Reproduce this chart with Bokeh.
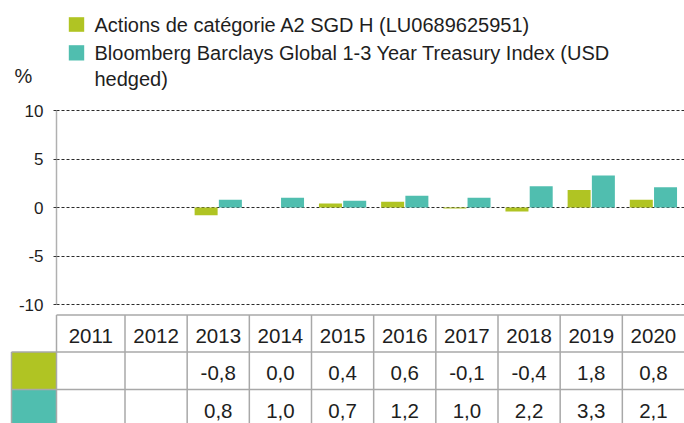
from bokeh.plotting import figure
from bokeh.models import Range1d, FixedTicker
from bokeh.core.properties import value
from bokeh.embed import file_html
from bokeh.resources import INLINE

# ---------------- data ----------------
YEARS = ["2011", "2012", "2013", "2014", "2015", "2016", "2017", "2018", "2019", "2020"]
FUND = [None, None, -0.8, 0.0, 0.4, 0.6, -0.1, -0.4, 1.8, 0.8]
INDEX = [None, None, 0.8, 1.0, 0.7, 1.2, 1.0, 2.2, 3.3, 2.1]
SERIES = [
    "Actions de catégorie A2 SGD H (LU0689625951)",
    "Bloomberg Barclays Global 1-3 Year Treasury Index (USD hedged)",
]
Y_TICKS = [-10, -5, 0, 5, 10]
Y_UNIT = "%"

# ---------------- style / layout ----------------
COLORS = ["#b0c423", "#50beaf"]
FONT = "Liberation Sans"
TXT = "#1e1e1e"
LINE_GREY = "#a8a8a8"

W, H = 684, 423
F_L, F_R, F_T, F_B = 56, 684, 109, 305        # plotting frame in px
YPAD = 1 / 9.7                                # 1px of padding in data units
N = len(YEARS)
COL = (F_R - 124.5) / (N - 1)                # px per category column
X0 = 1 - (124.5 - F_L) / COL                 # left edge of first (wider) column
X_SW = X0 - (F_L - 11) / COL                 # left edge of swatch column
edges = [X0] + list(range(1, N + 1))
centers = [(edges[i] + edges[i + 1]) / 2 for i in range(N)]
BAR_W = 0.37
OFFS = [-0.195, 0.195]

p = figure(width=W, height=H, x_range=Range1d(X0, N),
           y_range=Range1d(Y_TICKS[0] - YPAD, Y_TICKS[-1] + YPAD),
           output_backend="svg", toolbar_location=None, x_axis_type=None,
           outline_line_color=None, min_border_left=F_L, min_border_right=W - F_R,
           min_border_top=F_T, min_border_bottom=H - F_B)
# pixel helper ranges (value == page pixel) for legend / table layout
p.extra_x_ranges = {"px": Range1d(F_L, F_R)}
p.extra_y_ranges = {"px": Range1d(F_B, F_T)}

p.yaxis.ticker = FixedTicker(ticks=Y_TICKS)
p.yaxis.bounds = (Y_TICKS[0], Y_TICKS[-1])
p.yaxis.major_label_overrides = {t: str(t) for t in Y_TICKS}
p.ygrid.ticker = FixedTicker(ticks=Y_TICKS)
p.ygrid.grid_line_color = "#2a2a2a"
p.ygrid.grid_line_dash = "3 2"
p.ygrid.grid_line_width = 1
p.yaxis.axis_line_color = "#b0b0b0"
p.yaxis.axis_line_width = 1.5
p.yaxis.major_tick_in = 0
p.yaxis.major_tick_out = 3
p.yaxis.major_tick_line_color = "#333333"
p.yaxis.minor_tick_line_color = None
p.yaxis.major_label_standoff = 10
p.yaxis.major_label_text_font = FONT
p.yaxis.major_label_text_font_size = "17px"
p.yaxis.major_label_text_color = TXT

# ---------------- bars ----------------
for vals, off, col in zip([FUND, INDEX], OFFS, COLORS):
    xs = [centers[i] + off for i, v in enumerate(vals) if v is not None]
    tops = [v for v in vals if v is not None]
    p.vbar(x=xs, top=tops, bottom=0, width=BAR_W, fill_color=col, line_color=None)

# ---------------- legend ----------------
TXT_KW = dict(text_font=value(FONT), text_color=TXT, level="overlay",
              text_baseline="middle", text_align="left",
              x_range_name="px", y_range_name="px")
p.quad(left=[68.3, 68.3], right=[83.7, 83.7], top=[16.7, 44.7], bottom=[31.3, 60.0],
       fill_color=COLORS, line_color=None, level="overlay",
       x_range_name="px", y_range_name="px")
head, tail = SERIES[1].rsplit(" ", 1)
p.text(x=[94, 94, 94], y=[24, 52, 78], text=[SERIES[0], head, tail],
       text_font_size="20px", **TXT_KW)
p.text(x=[14], y=[75], text=[Y_UNIT], text_font_size="20px", **TXT_KW)

# ---------------- data table ----------------
R = [314.5, 351.5, 389.0, 426.5]
for k, col in enumerate(COLORS):
    p.quad(left=[X_SW], right=[X0], top=[R[1 + k]], bottom=[R[2 + k]],
           fill_color=col, line_color=None, level="overlay", y_range_name="px")
SEG_KW = dict(line_color=LINE_GREY, line_width=1.5, level="overlay", y_range_name="px")
p.segment(x0=[X0, X_SW, X_SW], x1=[N, N, N], y0=R[:3], y1=R[:3], **SEG_KW)
vx = edges[:-1]
p.segment(x0=vx, x1=vx, y0=[R[0]] * len(vx), y1=[R[3]] * len(vx), **SEG_KW)
p.segment(x0=[X_SW], x1=[X_SW], y0=[R[1]], y1=[R[3]], **SEG_KW)


def fmt(v):
    return "" if v is None else f"{v:.1f}".replace(".", ",")


CELL_KW = dict(text_font=value(FONT), text_color=TXT, text_font_size="20.5px",
               text_align="center", text_baseline="middle", level="overlay",
               y_range_name="px")
p.text(x=centers, y=[335.3] * N, text=YEARS, **CELL_KW)
p.text(x=centers, y=[372.8] * N, text=[fmt(v) for v in FUND], **CELL_KW)
p.text(x=centers, y=[410.3] * N, text=[fmt(v) for v in INDEX], **CELL_KW)

open("out.html", "w").write(file_html(p, INLINE))
